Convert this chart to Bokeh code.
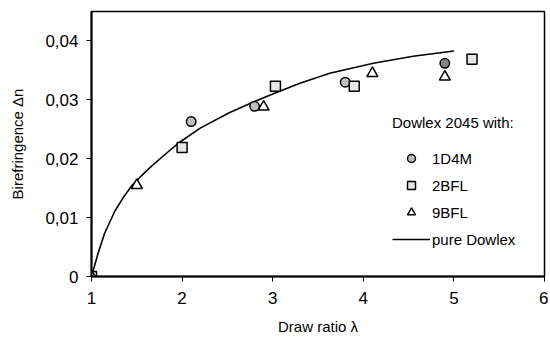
from bokeh.plotting import figure
from bokeh.models import Range1d, FixedTicker, Legend, LegendItem, ColumnDataSource
from bokeh.embed import file_html
from bokeh.resources import INLINE

# ---- data ----
d1_x = [1.0, 2.1, 2.8, 3.8, 4.9]
d1_y = [0.0, 0.0263, 0.0289, 0.0330, 0.0362]
b2_x = [1.0, 2.0, 3.03, 3.9, 5.2]
b2_y = [0.0, 0.0219, 0.0323, 0.0323, 0.0369]
b9_x = [1.0, 1.5, 2.9, 4.1, 4.9]
b9_y = [0.0, 0.0155, 0.0288, 0.0345, 0.0339]
pure_x = [1.0, 1.03, 1.07, 1.144, 1.254, 1.35, 1.439, 1.55, 1.66, 1.84, 1.973,
          2.2, 2.52, 2.8, 3.0, 3.3, 3.63, 4.11, 4.55, 5.0]
pure_y = [0.0, 0.0016, 0.0038, 0.0073, 0.0110, 0.0134, 0.0153, 0.0171, 0.0187, 0.0211, 0.0228,
          0.0252, 0.0278, 0.0297, 0.0310, 0.0328, 0.0345, 0.0362, 0.0374, 0.0383]
x_ticks = [1, 2, 3, 4, 5, 6]
x_tick_labels = ["1", "2", "3", "4", "5", "6"]
y_ticks = [0.0, 0.01, 0.02, 0.03, 0.04]
y_tick_labels = ["0", "0,01", "0,02", "0,03", "0,04"]

# styles (kept separate from data)
d1_fill = ["#c0c0c0", "#c0c0c0", "#c0c0c0", "#c0c0c0", "#858585"]

FONT = "Liberation Sans"

p = figure(width=548, height=340, output_backend="svg", toolbar_location=None,
           x_range=Range1d(1, 6), y_range=Range1d(0, 0.045),
           min_border_left=91, min_border_right=4, min_border_top=11, min_border_bottom=64)
p.grid.visible = False
p.background_fill_color = "white"
p.border_fill_color = "white"
p.outline_line_color = "black"
p.outline_line_width = 1.5

for ax in (p.xaxis[0], p.yaxis[0]):
    ax.axis_line_color = "black"
    ax.axis_line_width = 2
    ax.major_tick_line_color = "black"
    ax.major_tick_line_width = 1
    ax.major_tick_in = 0
    ax.major_tick_out = 5
    ax.minor_tick_line_color = None
    ax.major_label_text_font = FONT
    ax.major_label_text_font_size = "17px"
    ax.major_label_text_color = "black"
    ax.axis_label_text_font = FONT
    ax.axis_label_text_font_size = "15px"
    ax.axis_label_text_font_style = "normal"
    ax.axis_label_text_color = "black"

p.xaxis.ticker = FixedTicker(ticks=x_ticks)
p.xaxis.major_label_overrides = {t: l for t, l in zip(x_ticks, x_tick_labels)}
p.yaxis.ticker = FixedTicker(ticks=y_ticks)
p.yaxis.major_label_overrides = {t: l for t, l in zip(y_ticks, y_tick_labels)}
p.xaxis.major_label_standoff = 10
p.yaxis.major_label_standoff = 8
p.xaxis.axis_label = "Draw ratio λ"
p.yaxis.axis_label = "Birefringence Δn"
p.xaxis.axis_label_standoff = 11
p.yaxis.axis_label_standoff = 16

r_pure = p.line(pure_x, pure_y, line_color="black", line_width=1.6)
src1 = ColumnDataSource(dict(x=d1_x, y=d1_y, fill=d1_fill))
r_d1 = p.scatter("x", "y", source=src1, marker="circle", size=9.5, fill_color="fill",
                 line_color="black", line_width=1.5)
r_b2 = p.scatter(b2_x, b2_y, marker="square", size=10, fill_color="#e6e6e6",
                 line_color="black", line_width=1.5)
r_b9 = p.scatter(b9_x, b9_y, marker="triangle", size=11, fill_color="white",
                 line_color="black", line_width=1.5)

legend = Legend(items=[LegendItem(label="1D4M", renderers=[r_d1]),
                       LegendItem(label="2BFL", renderers=[r_b2]),
                       LegendItem(label="9BFL", renderers=[r_b9]),
                       LegendItem(label="pure Dowlex", renderers=[r_pure])],
                title="Dowlex 2045 with:", location=(301, 27),
                glyph_width=38, glyph_height=20, label_height=20, label_standoff=2,
                spacing=7, padding=5, margin=0, title_standoff=17,
                border_line_color=None, background_fill_alpha=0)
legend.label_text_font = FONT
legend.label_text_font_size = "15px"
legend.label_text_color = "black"
legend.title_text_font = FONT
legend.title_text_font_size = "15px"
legend.title_text_font_style = "normal"
legend.title_text_color = "black"
p.add_layout(legend, "center")

open("out.html", "w").write(file_html(p, INLINE))
